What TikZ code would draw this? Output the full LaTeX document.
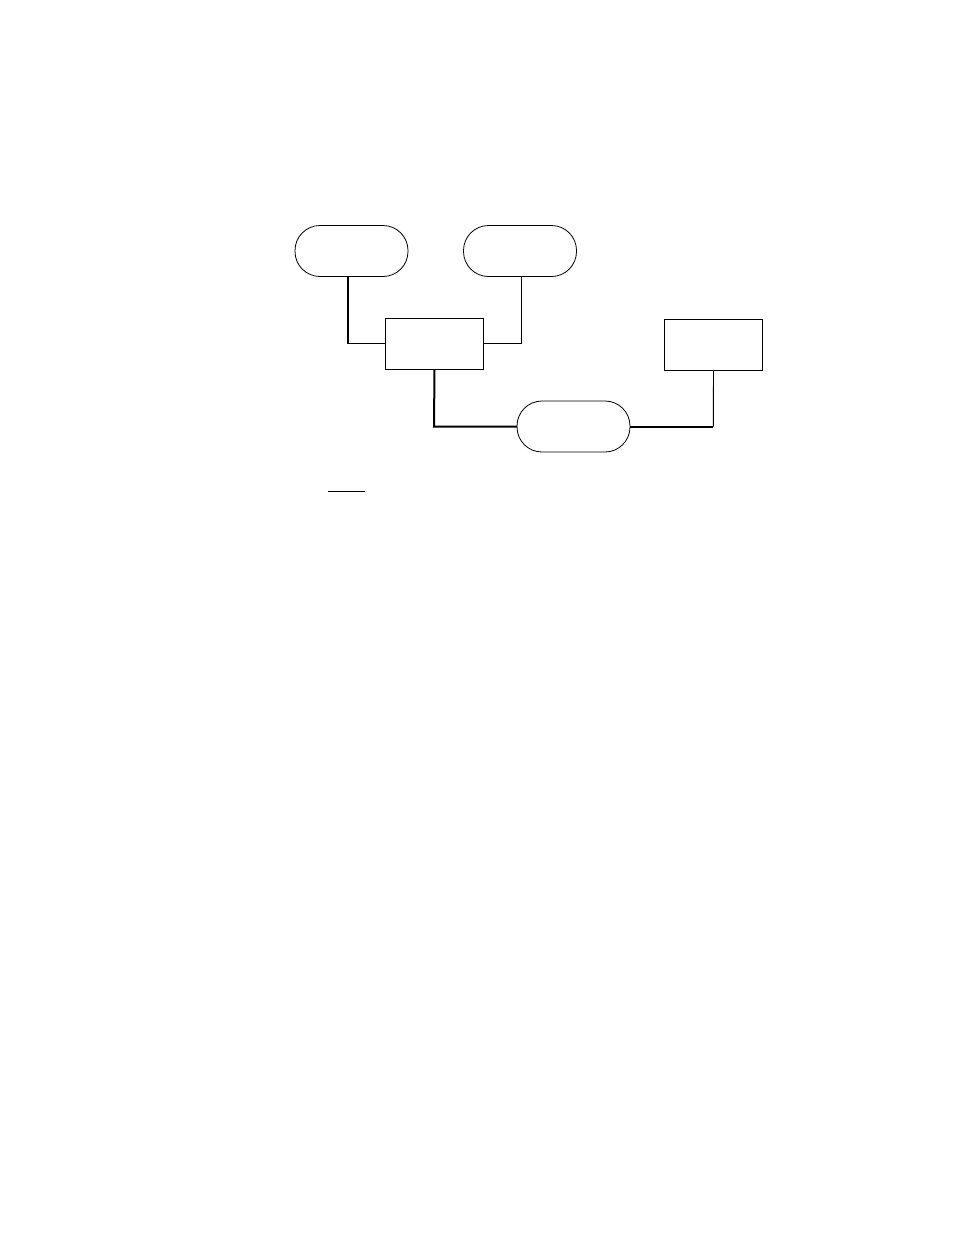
\documentclass[tikz,border=0pt]{standalone}
\begin{document}
\begin{tikzpicture}[x=1pt,y=-1pt,
  stadium/.style={draw,line width=0.8pt,rounded corners=25pt,minimum width=113pt,minimum height=51pt,inner sep=0pt,outer sep=0pt},
  boxnode/.style={draw,line width=0.8pt,minimum width=98pt,minimum height=51pt,inner sep=0pt,outer sep=0pt},
  thickline/.style={line width=2pt},
  thinline/.style={line width=0.9pt}]
\useasboundingbox (0,0) rectangle (954,1235);
\fill[white] (0,0) rectangle (954,1235);
\node[stadium] (s1) at (351.5,251) {};
\node[stadium] (s2) at (520,251) {};
\node[boxnode] (r1) at (434.5,344) {};
\node[boxnode] (r2) at (713.5,345) {};
\node[stadium] (s3) at (573.5,426.5) {};
\coordinate (c1) at (348,343.5);
\coordinate (c2) at (521.3,343.5);
\coordinate (c3) at (434,426.5);
\coordinate (c4) at (713.3,426.5);
\coordinate (u1) at (328,491.3);
\coordinate (u2) at (365,491.3);
\draw[thickline] (s1.south -| c1) -- (c1);
\draw[thinline] (c1) -- (r1.west |- c1);
\draw[thinline] (s2.south -| c2) -- (c2) -- (r1.east |- c2);
\draw[thickline] (r1.south) -- (c3) -- (s3.west);
\draw[thickline] (s3.east) -- (c4);
\draw[thinline] (c4) -- (r2.south);
\draw[thinline] (u1) -- (u2);
\end{tikzpicture}
\end{document}
